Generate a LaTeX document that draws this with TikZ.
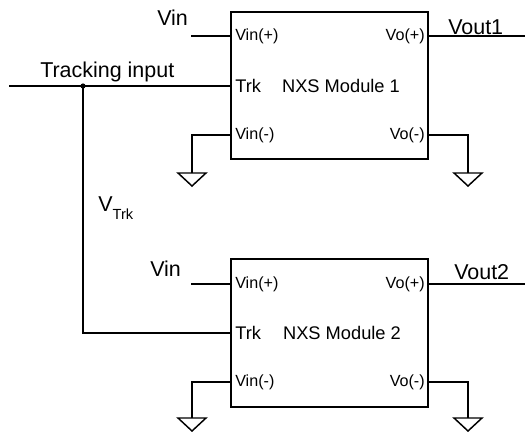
\documentclass[tikz,border=0pt]{standalone}
\usepackage{fontspec}
\setmainfont{Liberation Sans}
\begin{document}
\begin{tikzpicture}[x=0.75pt,y=-0.75pt,
  wire/.style={line width=1.1pt},
  modbox/.style={draw,line width=1.5pt,minimum width=147.75pt,minimum height=110.5pt,inner sep=0pt},
  biglbl/.style={font=\fontsize{16.1}{18}\selectfont,inner sep=0pt},
  modlbl/.style={font=\fontsize{13.7}{16}\selectfont,inner sep=0pt},
  pinlbl/.style={font=\fontsize{12.1}{14}\selectfont,inner sep=0pt},
  gndsym/.pic={\draw[line width=1.1pt,line join=miter] (-14,0) -- (14,0) -- (0,13) -- cycle;}
]
\useasboundingbox (0,0) rectangle (525,432);

% Module boxes
\node[modbox] (m1) at (329.5,85.5) {};
\node[modbox] (m2) at (329.5,333) {};
\node[modlbl] (m1t) at (341,86) {NXS Module 1};
\node[modlbl] (m2t) at (342,333) {NXS Module 2};

% Pin coordinates module 1
\coordinate (m1vp) at (231,36);
\coordinate (m1trk) at (231,86);
\coordinate (m1vm) at (231,135);
\coordinate (m1op) at (428,36);
\coordinate (m1om) at (428,135);
% Pin coordinates module 2
\coordinate (m2vp) at (231,284);
\coordinate (m2trk) at (231,333);
\coordinate (m2vm) at (231,382);
\coordinate (m2op) at (428,284);
\coordinate (m2om) at (428,382);

% pin labels
\node[pinlbl,anchor=west] (l1vp) at (235,36) {Vin(+)};
\node[modlbl,anchor=west] (l1trk) at (235,86) {Trk};
\node[pinlbl,anchor=west] (l1vm) at (235,135) {Vin(-)};
\node[pinlbl,anchor=east] (l1op) at (425,36) {Vo(+)};
\node[pinlbl,anchor=east] (l1om) at (425,135) {Vo(-)};
\node[pinlbl,anchor=west] (l2vp) at (235,284) {Vin(+)};
\node[modlbl,anchor=west] (l2trk) at (235,333) {Trk};
\node[pinlbl,anchor=west] (l2vm) at (235,382) {Vin(-)};
\node[pinlbl,anchor=east] (l2op) at (425,284) {Vo(+)};
\node[pinlbl,anchor=east] (l2om) at (425,382) {Vo(-)};

% free ends
\coordinate (vin1) at (191,36);
\coordinate (vin2) at (191,284);
\coordinate (trkin) at (9,86);
\coordinate (junc) at (83,86);
\coordinate (vout1) at (525,36);
\coordinate (vout2) at (525,284);
\coordinate (g1l) at (192,173);
\coordinate (g1r) at (468,173);
\coordinate (g2l) at (192,418);
\coordinate (g2r) at (468,418);

% wires
\draw[wire] (vin1) -- (m1vp);
\draw[wire] (trkin) -- (m1trk);
\draw[wire] (junc) |- (m2trk);
\fill (junc) circle (2.6);
\draw[wire] (vin2) -- (m2vp);
\draw[wire] (m1op) -- (vout1);
\draw[wire] (m2op) -- (vout2);
\draw[wire] (m1vm) -| (g1l);
\draw[wire] (m1om) -| (g1r);
\draw[wire] (m2vm) -| (g2l);
\draw[wire] (m2om) -| (g2r);
\pic at (g1l) {gndsym};
\pic at (g1r) {gndsym};
\pic at (g2l) {gndsym};
\pic at (g2r) {gndsym};

% labels
\node[biglbl,anchor=base west] (tvin1) at (157,26) {Vin};
\node[biglbl,anchor=base west] (tvin2) at (150,276) {Vin};
\node[biglbl,anchor=base west] (ttrk) at (40,77) {Tracking input};
\node[biglbl,anchor=base west] (tvout1) at (448,34) {Vout1};
\node[biglbl,anchor=base west] (tvout2) at (454,279) {Vout2};
\node[biglbl,anchor=base west] (tvtrk) at (98,211) {V\raisebox{-6pt}{\fontsize{11}{13}\selectfont Trk}};
\end{tikzpicture}
\end{document}
